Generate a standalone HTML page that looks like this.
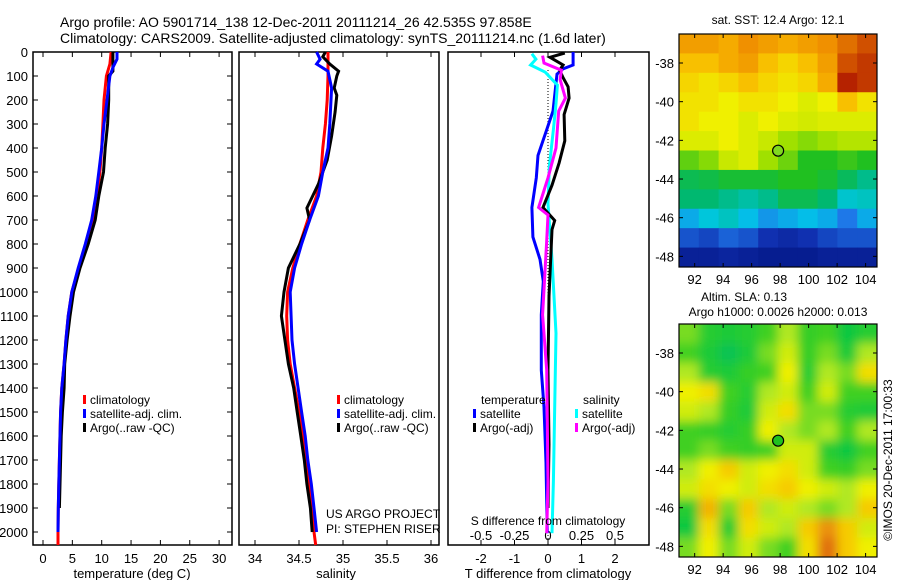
<!DOCTYPE html>
<html><head><meta charset="utf-8"><style>
html,body{margin:0;padding:0;background:#fff;}
svg{display:block;font-family:"Liberation Sans",sans-serif;}
</style></head><body>
<svg id="fig" width="900" height="580" viewBox="0 0 900 580" xmlns="http://www.w3.org/2000/svg">
<defs>
<filter id="blur" x="-5%" y="-5%" width="110%" height="110%"><feGaussianBlur stdDeviation="5"/></filter>
<clipPath id="clipSla"><rect x="679" y="324" width="198" height="233"/></clipPath>
</defs>
<rect x="0" y="0" width="900" height="580" fill="#fff"/>
<text x="60" y="27" font-size="14">Argo profile: AO 5901714_138 12-Dec-2011 20111214_26 42.535S 97.858E</text>
<text x="60" y="43" font-size="14">Climatology: CARS2009. Satellite-adjusted climatology: synTS_20111214.nc (1.6d later)</text>
<g id="g"></g>
</svg>
<script>
// ---------- data ----------
const depthTicks=[0,100,200,300,400,500,600,700,800,900,1000,1100,1200,1300,1400,1500,1600,1700,1800,1900,2000];
const tempTicks=[0,5,10,15,20,25,30];
const salTicks=[34,34.5,35,35.5,36];
const salTickLabels=["34","34.5","35","35.5","36"];
const tdiffTicks=[-2,-1,0,1,2];
const sdiffTicks=[-0.5,-0.25,0,0.25,0.5];
const sdiffTickLabels=["-0.5","-0.25","0","0.25","0.5"];

const tClimDepth=[0,50,100,200,300,400,500,600,700,800,900,1000,1100,1200,1300,1400,1500,1600,1700,1800,1900,2000,2054];
const tClim=[11.6,11.4,10.8,10.4,10.2,10.0,9.7,9.2,8.7,7.5,6.1,4.9,4.3,3.9,3.6,3.2,3.0,2.9,2.8,2.7,2.6,2.55,2.55];
const tSatDepth=[0,30,60,100,200,300,400,500,600,700,800,900,1000,1100,1200,1300,1400,1500,1600,1700,1800,1900,2000];
const tSat=[12.6,12.6,12.0,11.4,10.9,10.4,10.0,9.5,9.0,8.3,7.2,6.0,4.9,4.3,3.9,3.6,3.2,3.0,2.9,2.8,2.7,2.6,2.55];
const tArgoDepth=[0,80,100,200,300,400,500,600,700,800,900,1000,1100,1200,1300,1400,1500,1600,1700,1800,1900];
const tArgo=[11.9,11.9,11.2,11.2,11.0,10.6,10.3,9.5,8.9,7.7,6.3,5.2,4.6,4.1,3.7,3.6,3.3,3.1,3.0,2.9,2.8];

const sClimDepth=[0,100,200,300,400,500,600,700,800,900,1000,1100,1200,1300,1400,1500,1600,1700,1800,1900,2000,2054];
const sClim=[34.83,34.83,34.82,34.80,34.77,34.75,34.70,34.60,34.51,34.43,34.37,34.36,34.37,34.40,34.45,34.50,34.54,34.58,34.62,34.64,34.67,34.69];
const sSatDepth=[0,30,50,80,150,300,400,500,600,700,800,900,1000,1100,1200,1300,1400,1500,1600,1700,1800,1900,2000];
const sSat=[34.70,34.74,34.70,34.83,34.87,34.85,34.83,34.77,34.72,34.62,34.53,34.45,34.40,34.41,34.42,34.45,34.49,34.53,34.57,34.60,34.64,34.67,34.70];
const sArgoDepth=[0,20,50,80,100,150,180,250,350,450,550,650,700,800,900,1000,1100,1200,1300,1400,1500,1600,1700,1800,1900,2000];
const sArgo=[34.80,34.77,34.85,34.95,34.93,34.90,34.93,34.91,34.87,34.82,34.72,34.59,34.62,34.51,34.38,34.33,34.30,34.34,34.38,34.44,34.48,34.52,34.56,34.59,34.63,34.65];

const dTSatDepth=[0,54,70,92,246,308,431,524,648,771,864,956,1095,1326,1480,1712,2005];
const dTSat=[0.75,0.75,0.45,0.27,0.15,0,-0.3,-0.35,-0.48,-0.45,-0.24,-0.14,-0.2,-0.2,-0.12,-0.06,-0.02];
const dTArgoDepth=[4,22,54,76,107,145,192,261,370,462,555,648,702,740,1018,1326,1635,1900];
const dTArgo=[0.5,0.06,0.45,0.35,0.45,0.6,0.63,0.48,0.5,0.33,0.12,-0.15,0.2,0.12,0.03,0,0.03,0];
const dSSatDepth=[7,30,54,84,138,215,323,478,632,864,1172,1480,1789,2005];
const dSSat=[-0.12,-0.09,-0.13,-0.02,0.07,0.06,0.04,0.01,0,0.03,0.06,0.05,0.04,0.03];
const dSArgoDepth=[15,46,76,115,192,246,400,524,648,679,787,1095,1326,1789,2005];
const dSArgo=[-0.04,-0.03,0.1,0.09,0.13,0.08,0.06,0,-0.07,0,-0.01,-0.04,-0.01,0,-0.01];

const lonTicks=[92,94,96,98,100,102,104];
const latTicks=[-38,-40,-42,-44,-46,-48];
const sstGrid=[
[0.80,0.80,0.78,0.82,0.80,0.78,0.80,0.82,0.85,0.88],
[0.75,0.75,0.78,0.80,0.75,0.72,0.75,0.80,0.88,0.90],
[0.72,0.70,0.72,0.75,0.72,0.70,0.72,0.78,0.92,0.90],
[0.70,0.70,0.68,0.70,0.70,0.68,0.66,0.68,0.75,0.70],
[0.70,0.68,0.68,0.66,0.68,0.66,0.65,0.66,0.66,0.66],
[0.66,0.66,0.68,0.66,0.64,0.60,0.58,0.60,0.62,0.62],
[0.55,0.58,0.64,0.66,0.60,0.56,0.50,0.50,0.52,0.50],
[0.45,0.46,0.48,0.48,0.48,0.50,0.50,0.48,0.44,0.40],
[0.42,0.42,0.40,0.38,0.40,0.45,0.45,0.42,0.35,0.36],
[0.30,0.34,0.36,0.32,0.28,0.30,0.32,0.30,0.25,0.30],
[0.20,0.18,0.22,0.20,0.15,0.12,0.15,0.18,0.20,0.20],
[0.08,0.08,0.10,0.08,0.06,0.06,0.06,0.08,0.08,0.08]];
const slaGrid=[
[0.50,0.35,0.30,0.35,0.45,0.55,0.40,0.45,0.25,0.35],
[0.45,0.30,0.20,0.30,0.50,0.60,0.40,0.50,0.30,0.55],
[0.55,0.35,0.30,0.40,0.45,0.65,0.35,0.55,0.50,0.70],
[0.65,0.70,0.45,0.35,0.55,0.60,0.45,0.60,0.45,0.45],
[0.60,0.55,0.40,0.30,0.60,0.70,0.50,0.50,0.35,0.30],
[0.45,0.40,0.35,0.40,0.65,0.55,0.50,0.55,0.45,0.55],
[0.45,0.50,0.45,0.40,0.45,0.60,0.60,0.35,0.25,0.45],
[0.55,0.65,0.75,0.60,0.65,0.70,0.60,0.45,0.40,0.50],
[0.60,0.70,0.65,0.60,0.70,0.75,0.65,0.60,0.55,0.65],
[0.35,0.80,0.50,0.75,0.55,0.60,0.55,0.50,0.55,0.75],
[0.25,0.70,0.35,0.70,0.60,0.55,0.75,0.85,0.75,0.60],
[0.50,0.65,0.50,0.60,0.50,0.45,0.70,0.90,0.75,0.65]];
const argoLon=97.858, argoLat=-42.535;

// ---------- helpers ----------
const NS="http://www.w3.org/2000/svg";
const G=document.getElementById('g');
function mk(tag,attrs,parent){const e=document.createElementNS(NS,tag);for(const k in attrs)e.setAttribute(k,attrs[k]);(parent||G).appendChild(e);return e;}
function txt(x,y,s,size,anchor,parent){const e=mk('text',{x:x,y:y,'font-size':size,'text-anchor':anchor||'start'},parent);e.textContent=s;return e;}
const yD=d=>52+d*0.24;
const xT=t=>43+t*5.87;
const xS=s=>255+(s-34)*88;
const xDT=t=>548+t*33.5;
const xDS=s=>548+s*134;
const FS=13;

function frame(x0,x1,name){
  const r=mk('rect',{x:x0,y:52,width:x1-x0,height:493,fill:'none',stroke:'#000','stroke-width':1.5});
  
  
}
function line(xs,ds,fx,color,name){
  const pts=xs.map((v,i)=>fx(v).toFixed(1)+','+yD(ds[i]).toFixed(1)).join(' ');
  const p=mk('polyline',{points:pts,fill:'none',stroke:color,'stroke-width':3,'stroke-linejoin':'miter'});
  
  
}
function xticks(vals,labels,fx,y0,y1,labY,name){
  vals.forEach((v,i)=>{
    const x=fx(v);
    mk('line',{x1:x,y1:y0,x2:x,y2:y0-5,stroke:'#000','stroke-width':1});
    mk('line',{x1:x,y1:y1,x2:x,y2:y1+5,stroke:'#000','stroke-width':1});
    const t=txt(x,labY,labels[i],FS,'middle');
    
    
  });
}
function legItem(x,y,color,label,name){
  mk('rect',{x:x,y:y-9,width:3,height:9,fill:color});
  const t=txt(x+7,y,label,12);
  
  
}

// ---------- depth axis ----------
depthTicks.forEach(d=>{
  const y=yD(d);
  const t=txt(28,y+5,String(d),FS,'end');
  
  
  mk('line',{x1:33,y1:y,x2:38,y2:y,stroke:'#000'});
  mk('line',{x1:232,y1:y,x2:227,y2:y,stroke:'#000'});
});

// ---------- panel 1 temperature ----------
frame(33,232,'temperature-panel');
xticks(tempTicks,tempTicks.map(String),xT,545,52,563,'temperature-tick-label');
line(tClim,tClimDepth,xT,'#ff0000','temperature-climatology-line');
line(tArgo,tArgoDepth,xT,'#000000','temperature-argo-line');
line(tSat,tSatDepth,xT,'#0000ff','temperature-satellite-line');
legItem(83,404,'#ff0000','climatology','legend-climatology');
legItem(83,418,'#0000ff','satellite-adj. clim.','legend-satellite-adj');
legItem(83,432,'#000000','Argo(..raw -QC)','legend-argo');
let t=txt(132,578,'temperature (deg C)',FS,'middle');



// ---------- panel 2 salinity ----------
frame(239,439,'salinity-panel');
xticks(salTicks,salTickLabels,xS,545,52,563,'salinity-tick-label');
line(sClim,sClimDepth,xS,'#ff0000','salinity-climatology-line');
line(sArgo,sArgoDepth,xS,'#000000','salinity-argo-line');
line(sSat,sSatDepth,xS,'#0000ff','salinity-satellite-line');
legItem(337,404,'#ff0000','climatology','legend-climatology-2');
legItem(337,418,'#0000ff','satellite-adj. clim.','legend-satellite-adj-2');
legItem(337,432,'#000000','Argo(..raw -QC)','legend-argo-2');
t=txt(326,518,'US ARGO PROJECT',12);


t=txt(326,533,'PI: STEPHEN RISER',12);


t=txt(336,578,'salinity',FS,'middle');



// ---------- panel 3 differences ----------
frame(448,649,'difference-panel');
xticks(tdiffTicks,tdiffTicks.map(String),xDT,545,52,563,'t-difference-tick-label');
mk('line',{x1:548,y1:70,x2:548,y2:545,stroke:'#000','stroke-width':1,'stroke-dasharray':'1,2'});
sdiffTicks.forEach((v,i)=>{
  const tt=txt(xDS(v),540,sdiffTickLabels[i],FS,'middle');
  
  
});
line(dTSat,dTSatDepth,xDT,'#0000ff','t-diff-satellite-line');
line(dSSat,dSSatDepth,xDS,'#00ffff','s-diff-satellite-line');
line(dTArgo,dTArgoDepth,xDT,'#000000','t-diff-argo-line');
line(dSArgo,dSArgoDepth,xDS,'#ff00ff','s-diff-argo-line');
t=txt(548,525,'S difference from climatology',12,'middle');


t=txt(548,578,'T difference from climatology',FS,'middle');


t=txt(481,404,'temperature',12);


t=txt(583,404,'salinity',12);


legItem(473,418,'#0000ff','satellite','legend-t-satellite');
legItem(473,432,'#000000','Argo(-adj)','legend-t-argo');
legItem(575,418,'#00ffff','satellite','legend-s-satellite');
legItem(575,432,'#ff00ff','Argo(-adj)','legend-s-argo');

// ---------- maps ----------
function interp(stops,v){
  v=Math.max(0,Math.min(1,v));
  for(let i=1;i<stops.length;i++){
    if(v<=stops[i][0]){
      const a=stops[i-1],b=stops[i],f=(v-a[0])/(b[0]-a[0]);
      const c=[0,1,2].map(k=>Math.round(a[1][k]+(b[1][k]-a[1][k])*f));
      return 'rgb('+c.join(',')+')';
    }
  }
  const l=stops[stops.length-1][1];return 'rgb('+l.join(',')+')';
}
const sstStops=[[0,[0,16,122]],[0.15,[16,48,176]],[0.25,[30,120,232]],[0.33,[0,200,232]],[0.42,[0,184,112]],[0.5,[32,192,32]],[0.6,[160,224,0]],[0.68,[240,240,0]],[0.75,[248,192,0]],[0.82,[240,144,0]],[0.88,[208,80,0]],[0.95,[160,0,0]]];
const slaStops=[[0,[16,176,160]],[0.25,[16,200,64]],[0.45,[64,208,32]],[0.55,[176,232,32]],[0.65,[240,240,0]],[0.78,[248,192,0]],[0.9,[224,112,16]],[1,[192,64,0]]];
const MX0=679,MX1=877,LON0=90.9,LON1=104.8,LAT0=-36.5,LAT1=-48.55;
function drawMap(y0,grid,stops,name,smooth,markerFill){
  const H=233,W=MX1-MX0;
  const xL=lo=>MX0+(lo-LON0)/(LON1-LON0)*W;
  const yL=la=>y0+(la-LAT0)/(LAT1-LAT0)*H;
  const rows=grid.length,cols=grid[0].length;
  const cw=W/cols,ch=H/rows;
  let host=G;
  if(smooth){
    const outer=mk('g',{'clip-path':'url(#clipSla)'});
    host=mk('g',{filter:'url(#blur)'},outer);
  }
  grid.forEach((row,r)=>row.forEach((v,c)=>{
    const ex=smooth?12:0;
    const x=MX0+c*cw-(c===0?ex:0), y=y0+r*ch-(r===0?ex:0);
    const w=cw+0.5+(c===0?ex:0)+(c===cols-1?ex:0), h=ch+0.5+(r===0?ex:0)+(r===rows-1?ex:0);
    const cell=mk('rect',{x:x.toFixed(2),y:y.toFixed(2),width:w.toFixed(2),height:h.toFixed(2),fill:interp(stops,v)},host);
    
    
  }));
  const fr=mk('rect',{x:MX0,y:y0,width:W,height:H,fill:'none',stroke:'#000','stroke-width':1.2});
  
  
  lonTicks.forEach(lo=>{
    const x=xL(lo);
    mk('line',{x1:x,y1:y0,x2:x,y2:y0+4,stroke:'#000'});
    mk('line',{x1:x,y1:y0+H,x2:x,y2:y0+H-4,stroke:'#000'});
    const tl=txt(x,y0+H+17,String(lo),FS,'middle');
    
    
  });
  latTicks.forEach(la=>{
    const y=yL(la);
    mk('line',{x1:MX0,y1:y,x2:MX0+4,y2:y,stroke:'#000'});
    mk('line',{x1:MX1,y1:y,x2:MX1-4,y2:y,stroke:'#000'});
    const tl=txt(MX0-5,y+5,String(la),FS,'end');
    
    
  });
  const m=mk('circle',{cx:xL(argoLon),cy:yL(argoLat),r:5.5,fill:markerFill,stroke:'#000','stroke-width':1.2});
  
  
}
drawMap(34,sstGrid,sstStops,'sst-map',false,'#80d820');
drawMap(324,slaGrid,slaStops,'sla-map',true,'#20c020');
t=txt(778,24,'sat. SST: 12.4 Argo: 12.1',12,'middle');


t=txt(744,301,'Altim. SLA: 0.13',12,'middle');


t=txt(778,316,'Argo h1000: 0.0026 h2000: 0.013',12,'middle');


t=txt(0,0,'\u00a9IMOS 20-Dec-2011 17:00:33',12,'middle');
t.setAttribute('transform','translate(892,460) rotate(-90)');


</script>
</body></html>
